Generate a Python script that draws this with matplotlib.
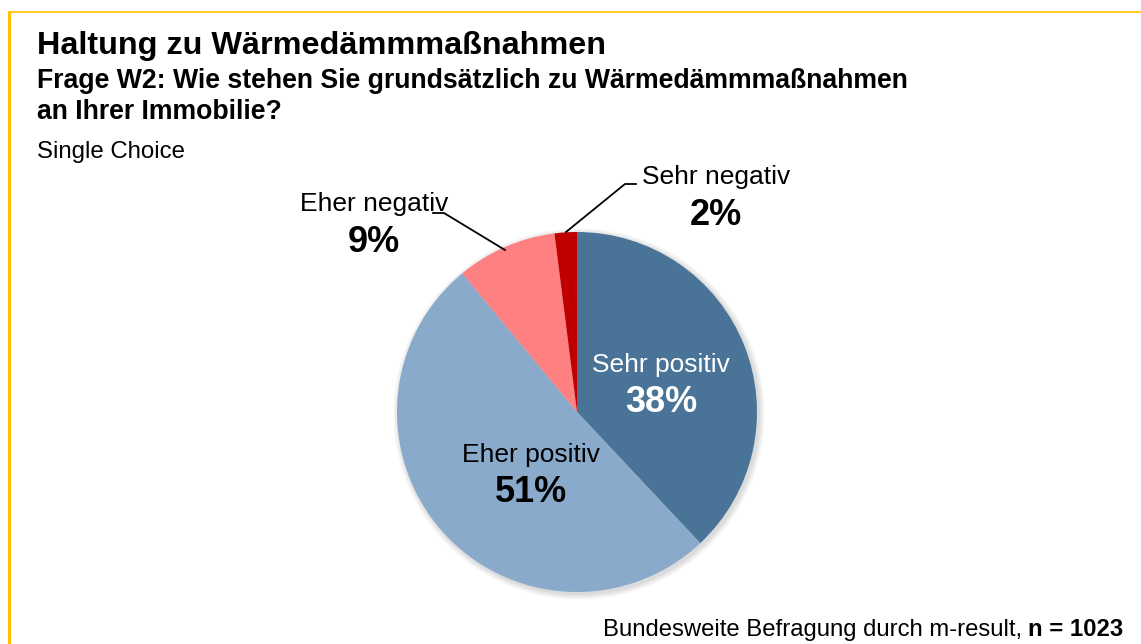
import matplotlib
matplotlib.use("Agg")
import matplotlib.pyplot as plt
from matplotlib.patches import Circle

categories = ["Sehr positiv", "Eher positiv", "Eher negativ", "Sehr negativ"]
values = [38, 51, 9, 2]
colors = ["#4A7497", "#8AAACB", "#FF8080", "#C00000"]
label_colors = ["white", "black", "black", "black"]

W, H = 1141, 644
fig = plt.figure(figsize=(W / 100, H / 100), dpi=100)
ax = fig.add_axes([0, 0, 1, 1])
plt.rcParams['font.family'] = ['Liberation Sans', 'DejaVu Sans']

def Y(y):
    return H - y

cx, cy, r = 577, Y(412), 180

# soft shadow
for i, a in enumerate([0.035, 0.035, 0.035, 0.035]):
    ax.add_patch(Circle((cx + 2, cy - 2), r + 1 + i * 1.5, color="black", alpha=a, lw=0, zorder=1))

wedges, _ = ax.pie(values, colors=colors, startangle=90, counterclock=False,
                   center=(cx, cy), radius=r, wedgeprops=dict(linewidth=0, zorder=2))
for w in wedges:
    w.set_zorder(2)

ax.set_xlim(0, W)
ax.set_ylim(0, H)
ax.set_aspect("auto")
ax.axis("off")

# label positions (pixel coords)
label_pos = [(661, 365), (531, 455), (374, 204), (716, 177)]
for cat, val, (lx, ly), lc in zip(categories, values, label_pos, label_colors):
    ax.text(lx, Y(ly), cat, ha="center", va="center", fontsize=19, color=lc, zorder=5)
    ax.text(lx, Y(ly + 38), f"{val}%", ha="center", va="center", fontsize=26,
            fontweight="bold", color=lc, zorder=5)

# leader lines
ax.plot([433, 444, 505], [Y(213), Y(213), Y(250)], color="black", lw=1.3, zorder=4)
ax.plot([636, 625, 566], [Y(184), Y(184), Y(232)], color="black", lw=1.3, zorder=4)

# frame lines
ax.plot([9, 9], [Y(11), 0], color="#FFC000", lw=2.2, zorder=6, solid_capstyle="butt")
ax.plot([8, W], [Y(11.5), Y(11.5)], color="#FFC000", lw=1.2, zorder=6, solid_capstyle="butt")

# titles
ax.text(37, Y(46), "Haltung zu Wärmedämmmaßnahmen", fontsize=23.3, fontweight="bold",
        ha="left", va="center")
ax.text(37, Y(81), "Frage W2: Wie stehen Sie grundsätzlich zu Wärmedämmmaßnahmen",
        fontsize=19.2, fontweight="bold", ha="left", va="center")
ax.text(37, Y(112), "an Ihrer Immobilie?", fontsize=19.2, fontweight="bold",
        ha="left", va="center")
ax.text(37, Y(152), "Single Choice", fontsize=17.3, ha="left", va="center")

# footer
t1 = ax.text(1123, Y(630), "n = 1023", fontsize=17.2, fontweight="bold", ha="right", va="center")
fig.canvas.draw()
bb = t1.get_window_extent()
ax.text(bb.x0 - 6, Y(630), "Bundesweite Befragung durch m-result,", fontsize=17.2,
        ha="right", va="center")

fig.savefig("out.png", dpi=100, facecolor="white")
